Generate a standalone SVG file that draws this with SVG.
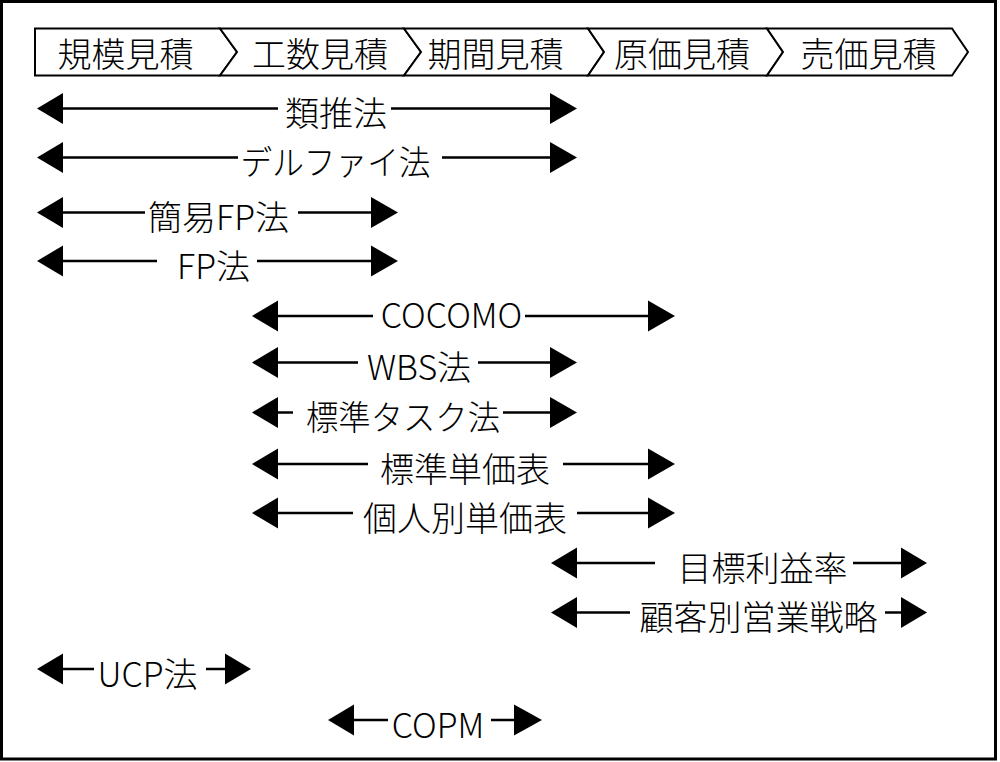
<svg xmlns="http://www.w3.org/2000/svg" width="1000" height="762" viewBox="0 0 1000 762">
<style>
text{font-family:"Noto Sans CJK JP","Noto Sans",sans-serif;font-size:34px;font-weight:300;fill:#000;text-anchor:middle}
.chev{fill:#fff;stroke:#000;stroke-width:2}
.ln{stroke:#000;stroke-width:2.5;fill:none}
.hd{fill:#000}
</style>
<rect x="0" y="0" width="1000" height="762" fill="#fff"/>
<rect x="1.5" y="1.5" width="994" height="757.5" fill="none" stroke="#000" stroke-width="3"/>
<g id="phases">
<g id="phase1"><polygon class="chev" points="35,28.5 220,28.5 237,52 220,75.5 35,75.5"/><text x="125.5" y="67">規模見積</text></g>
<g id="phase2"><polygon class="chev" points="220,28.5 404,28.5 421,52 404,75.5 220,75.5 237,52"/><text x="320" y="67">工数見積</text></g>
<g id="phase3"><polygon class="chev" points="404,28.5 588,28.5 604,52 588,75.5 404,75.5 421,52"/><text x="495.5" y="67">期間見積</text></g>
<g id="phase4"><polygon class="chev" points="588,28.5 767,28.5 783,52 767,75.5 588,75.5 604,52"/><text x="682" y="67">原価見積</text></g>
<g id="phase5"><polygon class="chev" points="767,28.5 952,28.5 968,52 952,75.5 767,75.5 783,52"/><text x="868.5" y="67">売価見積</text></g>
</g>
<g id="connectors">
<path class="ln" d="M62,108.5H278M391,108.5H551"/>
<polygon class="hd" points="37,108.5 63,93 63,124"/><polygon class="hd" points="577,108.5 550,93 550,124"/>
<path class="ln" d="M62,157.5H238M442,157.5H551"/>
<polygon class="hd" points="37,157.5 63,142 63,173"/><polygon class="hd" points="577,157.5 550,142 550,173"/>
<path class="ln" d="M62,212.5H145M298,212.5H372"/>
<polygon class="hd" points="37,212.5 63,197 63,228"/><polygon class="hd" points="398,212.5 371,197 371,228"/>
<path class="ln" d="M62,261H157M257,261H372"/>
<polygon class="hd" points="37,261 63,245.5 63,276.5"/><polygon class="hd" points="398,261 371,245.5 371,276.5"/>
<path class="ln" d="M277,316H373M525,316H649"/>
<polygon class="hd" points="252,316 278,300.5 278,331.5"/><polygon class="hd" points="675,316 648,300.5 648,331.5"/>
<path class="ln" d="M277,362.5H358M478,362.5H551"/>
<polygon class="hd" points="252,362.5 278,347 278,378"/><polygon class="hd" points="577,362.5 550,347 550,378"/>
<path class="ln" d="M277,412.5H293M503,412.5H551"/>
<polygon class="hd" points="252,412.5 278,397 278,428"/><polygon class="hd" points="577,412.5 550,397 550,428"/>
<path class="ln" d="M277,464H368M563,464H649"/>
<polygon class="hd" points="252,464 278,448.5 278,479.5"/><polygon class="hd" points="675,464 648,448.5 648,479.5"/>
<path class="ln" d="M277,513H353M577,513H649"/>
<polygon class="hd" points="252,513 278,497.5 278,528.5"/><polygon class="hd" points="675,513 648,497.5 648,528.5"/>
<path class="ln" d="M576,563H655M853,563H902"/>
<polygon class="hd" points="551,563 577,547.5 577,578.5"/><polygon class="hd" points="927,563 901,547.5 901,578.5"/>
<path class="ln" d="M576,612.5H630M885,612.5H902"/>
<polygon class="hd" points="551,612.5 577,597 577,628"/><polygon class="hd" points="927,612.5 901,597 901,628"/>
<path class="ln" d="M62,669H94M206,669H226"/>
<polygon class="hd" points="37,669 63,653.5 63,684.5"/><polygon class="hd" points="251,669 225,653.5 225,684.5"/>
<path class="ln" d="M353,720H388M491,720H515"/>
<polygon class="hd" points="328,720 354,704.5 354,735.5"/><polygon class="hd" points="542,720 514,704.5 514,735.5"/>
</g>
<g id="methods">
<g id="m1"><text x="336" y="126">類推法</text></g>
<g id="m2"><text x="335.5" y="175" textLength="190" lengthAdjust="spacingAndGlyphs">デルファイ法</text></g>
<g id="m3"><text x="218.5" y="230">簡易FP法</text></g>
<g id="m4"><text x="213.5" y="278.5">FP法</text></g>
<g id="m5"><text x="451.5" y="328">COCOMO</text></g>
<g id="m6"><text x="419" y="380">WBS法</text></g>
<g id="m7"><text x="403" y="430" textLength="194" lengthAdjust="spacingAndGlyphs">標準タスク法</text></g>
<g id="m8"><text x="465" y="481.5">標準単価表</text></g>
<g id="m9"><text x="465" y="530.5">個人別単価表</text></g>
<g id="m10"><text x="762.5" y="580.5">目標利益率</text></g>
<g id="m11"><text x="758.5" y="630">顧客別営業戦略</text></g>
<g id="m12"><text x="147.5" y="686.5">UCP法</text></g>
<g id="m13"><text x="438" y="737.5">COPM</text></g>
</g>
</svg>
